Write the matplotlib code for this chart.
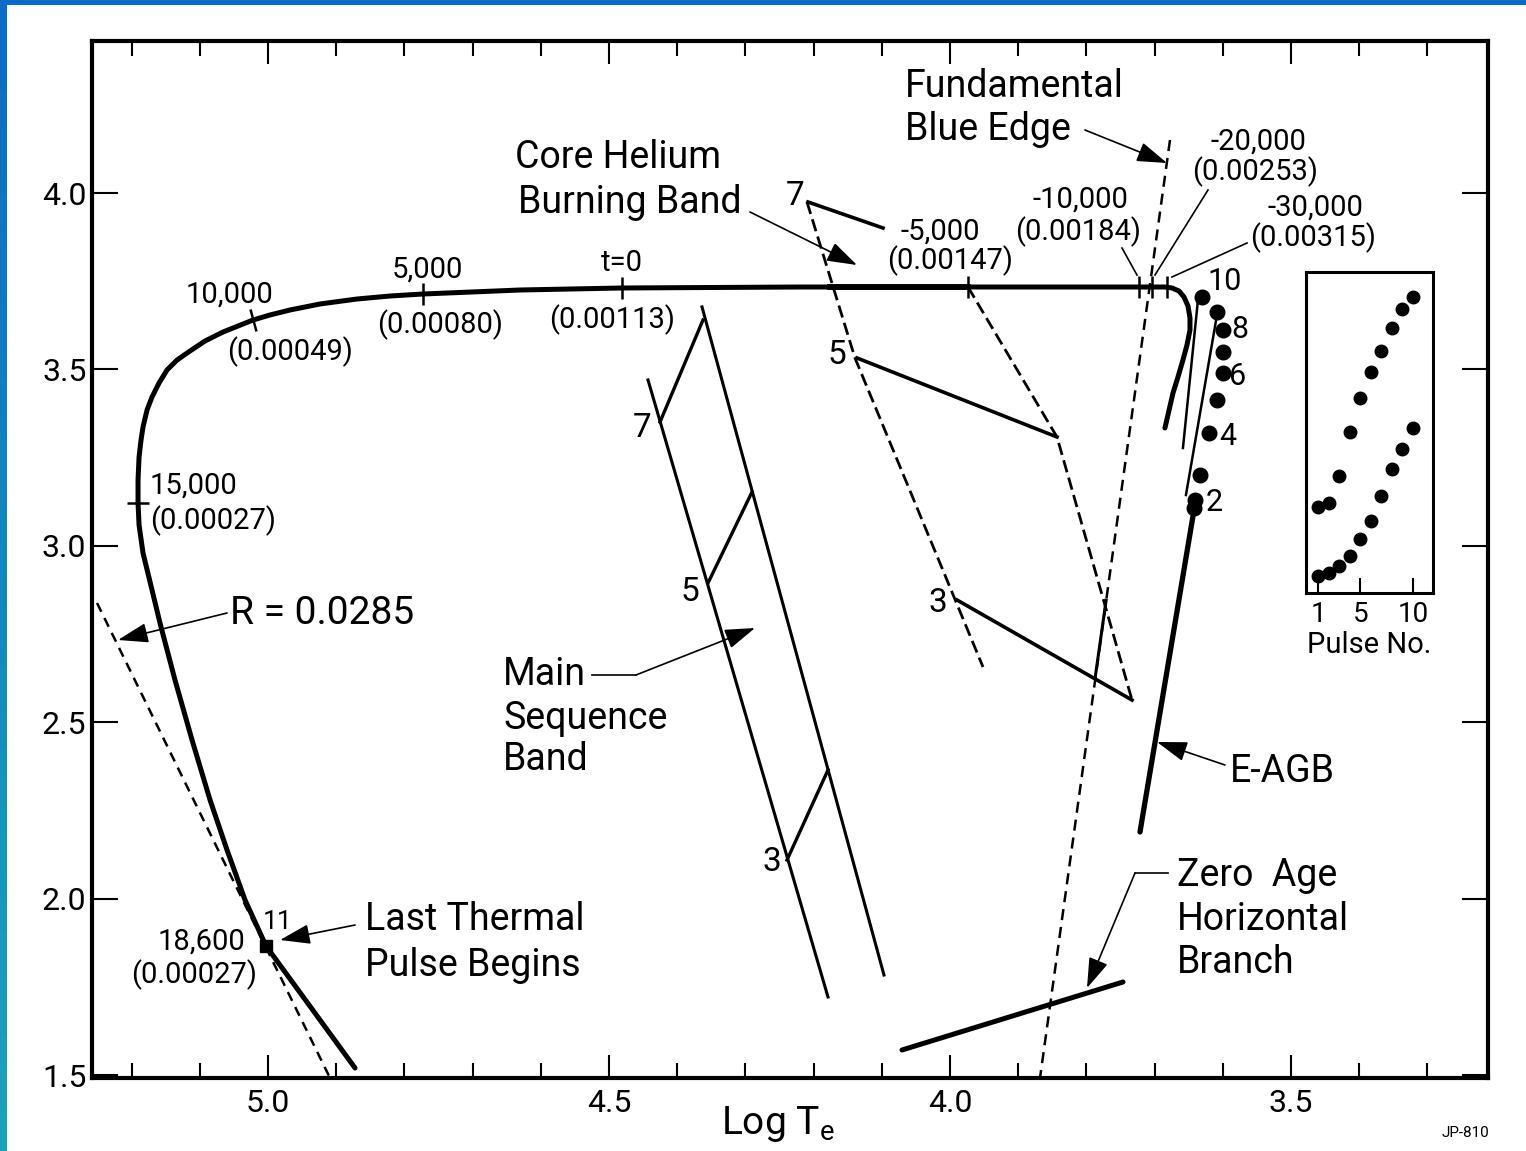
import numpy as np
import matplotlib
matplotlib.use("Agg")
import matplotlib.pyplot as plt
from matplotlib.markers import MarkerStyle
from matplotlib.transforms import Affine2D
from matplotlib.colors import LinearSegmentedColormap

plt.rcParams['font.family'] = ['Roboto', 'DejaVu Sans']
plt.rcParams['mathtext.fontset'] = 'custom'
plt.rcParams['mathtext.rm'] = 'Roboto'
plt.rcParams['mathtext.it'] = 'Roboto'
plt.rcParams['lines.scale_dashes'] = False

# ---------------- data (log Te, log L) ----------------
track_logT = [4.8724, 5.0029, 5.0337, 5.0601, 5.0850, 5.1114, 5.1364, 5.1584, 5.1701,
              5.1833, 5.1891, 5.1906, 5.1906, 5.1891, 5.1862, 5.1833, 5.1774, 5.1701,
              5.1598, 5.1481, 5.1334, 5.1144, 5.0924, 5.0660, 5.0440, 5.0220, 4.9971,
              4.9677, 4.9238, 4.8695, 4.8211, 4.7727, 4.6305, 4.4809, 4.2199, 3.9736,
              3.7214, 3.6848, 3.6745, 3.6642, 3.6569, 3.6510, 3.6481, 3.6481, 3.6525,
              3.6584, 3.6657, 3.6730, 3.6848]
track_logL = [1.5212, 1.8669, 1.9972, 2.1388, 2.2805, 2.4504, 2.6204, 2.7819, 2.8754,
              2.9802, 3.0595, 3.1218, 3.1870, 3.2521, 3.3003, 3.3371, 3.3853, 3.4221,
              3.4618, 3.4986, 3.5269, 3.5524, 3.5807, 3.6062, 3.6232, 3.6402, 3.6544,
              3.6686, 3.6856, 3.6997, 3.7082, 3.7139, 3.7252, 3.7309, 3.7337, 3.7337,
              3.7337, 3.7337, 3.7309, 3.7224, 3.7054, 3.6799, 3.6459, 3.6119, 3.5694,
              3.5269, 3.4788, 3.4334, 3.3343]

# time ticks along the track
tick_labels_top = ["10,000", "5,000", "t=0", "15,000", "-5,000", "-10,000", "-20,000", "-30,000"]
tick_logT = [5.0220, 4.7727, 4.4809, 5.1906, 3.9736, 3.7229, 3.7038, 3.6818]
tick_logL = [3.6402, 3.7139, 3.7309, 3.1218, 3.7337, 3.7337, 3.7337, 3.7337]

# constant radius line R = 0.0285
radius_logT = [5.2507, 4.9091]
radius_logL = [2.8385, 1.4929]

# fundamental blue edge
blue_edge_logT = [3.6774, 3.8680]
blue_edge_logL = [4.1501, 1.4929]
blue_edge_solid_logT = [3.771, 3.787]
blue_edge_solid_logL = [2.847, 2.629]

# main sequence band
ms_left_logT = [4.4428, 4.1789]
ms_left_logL = [3.4703, 1.7224]
ms_right_logT = [4.3636, 4.0968]
ms_right_logL = [3.6771, 1.7847]
ms_masses = ["7", "5", "3"]
ms_track_logT = [[4.3622, 4.4252], [4.2903, 4.3548], [4.1789, 4.2390]]
ms_track_logL = [[3.6402, 3.3513], [3.1530, 2.8952], [2.3654, 2.1105]]

# core helium burning band
cheb_left_logT = [4.2097, 4.1393, 3.9516]
cheb_left_logL = [3.9745, 3.5326, 2.6572]
cheb_right_logT = [3.9736, 3.8431, 3.7331]
cheb_right_logL = [3.7337, 3.3088, 2.5637]
cheb_track_logT = [[4.2082, 4.0982], [4.1364, 3.8431], [3.9897, 3.7331]]
cheb_track_logL = [[3.9745, 3.9008], [3.5326, 3.3088], [2.8470, 2.5637]]
cheb_hatch_logT = [4.1760, 3.9736]
cheb_hatch_logL = [3.7337, 3.7337]

# zero age horizontal branch
zahb_logT = [4.0704, 3.7463]
zahb_logL = [1.5722, 1.7649]

# early AGB
eagb_logT = [3.7214, 3.6422]
eagb_logL = [2.1898, 3.1020]

# thermal pulse loci
pulse_no = [1, 2, 3, 4, 5, 6, 7, 8, 9, 10]
pulse_logT = [3.6422, 3.6408, 3.6334, 3.6202, 3.6085, 3.5997, 3.5997, 3.5997, 3.6085, 3.6305]
pulse_logL = [3.1076, 3.1303, 3.2011, 3.3201, 3.4136, 3.4901, 3.5496, 3.6119, 3.6629, 3.7054]
pulse_line1_logT = [3.6364, 3.6584]
pulse_line1_logL = [3.6969, 3.2776]
pulse_line2_logT = [3.6085, 3.6540]
pulse_line2_logL = [3.6544, 3.1445]
last_pulse_logT = [5.0029]
last_pulse_logL = [1.8669]

# inset (relative units)
inset_upper = [0.268, 0.280, 0.364, 0.502, 0.607, 0.688, 0.754, 0.826, 0.885, 0.922]
inset_lower = [0.053, 0.062, 0.084, 0.115, 0.168, 0.224, 0.302, 0.386, 0.449, 0.514]

x_major = [5.0, 4.5, 4.0, 3.5]
y_major = [1.5, 2.0, 2.5, 3.0, 3.5, 4.0]

# ---------------- figure ----------------
fig = plt.figure(figsize=(15.26, 11.51), dpi=100)
ax = fig.add_axes([92/1526, 1-1078/1151, (1488-92)/1526, (1078-41)/1151])
ax.set_xlim(5.2581, 3.2111)
ax.set_ylim(1.4929, 4.4306)

for s in ax.spines.values():
    s.set_linewidth(3.0)

ax.set_xticks(x_major)
ax.set_xticklabels(["5.0", "4.5", "4.0", "3.5"])
ax.set_xticks(np.arange(3.3, 5.25, 0.1), minor=True)
ax.set_yticks(y_major)
ax.set_yticklabels(["1.5", "2.0", "2.5", "3.0", "3.5", "4.0"])
ax.tick_params(axis='x', which='major', direction='in', length=16.5, width=1.5,
               top=True, bottom=True, labelsize=23, pad=8)
ax.tick_params(axis='x', which='minor', direction='in', length=11, width=1.5,
               top=True, bottom=True)
ax.tick_params(axis='y', which='major', direction='in', length=19, width=1.5,
               left=True, right=True, labelsize=23, pad=4)
ax.tick_params(axis='y', which='minor', left=False, right=False)

k = 'black'
# dashed lines
ax.plot(radius_logT, radius_logL, color=k, lw=1.8, dashes=(7, 5))
ax.plot(blue_edge_logT, blue_edge_logL, color=k, lw=1.8, dashes=(8, 5))
ax.plot(blue_edge_solid_logT, blue_edge_solid_logL, color=k, lw=2.2)
ax.plot(cheb_left_logT, cheb_left_logL, color=k, lw=2.0, dashes=(9, 4))
ax.plot(cheb_right_logT, cheb_right_logL, color=k, lw=2.0, dashes=(9, 4))

# main sequence band
ax.plot(ms_left_logT, ms_left_logL, color=k, lw=2.2)
ax.plot(ms_right_logT, ms_right_logL, color=k, lw=2.2)
for tT, tL in zip(ms_track_logT, ms_track_logL):
    ax.plot(tT, tL, color=k, lw=2.4)

# core helium tracks
for tT, tL in zip(cheb_track_logT, cheb_track_logL):
    ax.plot(tT, tL, color=k, lw=2.6)
ax.plot(cheb_hatch_logT, cheb_hatch_logL, color=k, lw=4.2)

# main post-AGB track
ax.plot(track_logT, track_logL, color=k, lw=3.6, solid_capstyle='round', solid_joinstyle='round')

# time ticks
for i, (tT, tL) in enumerate(zip(tick_logT, tick_logL)):
    if tick_labels_top[i] == "15,000":
        m = '_'
    elif tick_labels_top[i] == "10,000":
        m = MarkerStyle('|', transform=Affine2D().rotate_deg(18))
    else:
        m = '|'
    ax.plot([tT], [tL], marker=m, ms=16, mew=1.8, color=k, ls='none')

# ZAHB, E-AGB
ax.plot(zahb_logT, zahb_logL, color=k, lw=3.6, solid_capstyle='round')
ax.plot(eagb_logT, eagb_logL, color=k, lw=3.8, solid_capstyle='round')

# thermal pulses
ax.plot(pulse_line1_logT, pulse_line1_logL, color=k, lw=1.8)
ax.plot(pulse_line2_logT, pulse_line2_logL, color=k, lw=1.8)
ax.plot(pulse_logT, pulse_logL, 'o', color=k, ms=10.5)
ax.plot(last_pulse_logT, last_pulse_logL, 's', color=k, ms=8.5)

# ---------------- annotations ----------------
def arrow(start, tip):
    ax.annotate('', xy=tip, xytext=start,
                arrowprops=dict(arrowstyle='-|>,head_length=0.85,head_width=0.28',
                                lw=1.2, color=k, shrinkA=0, shrinkB=0,
                                mutation_scale=22))

def leader(p1, p2):
    ax.plot([p1[0], p2[0]], [p1[1], p2[1]], color=k, lw=1.2)

num_fs = 21
big_fs = 27
time_labels = [
    ("10,000", 5.0572, 3.7110, 'center'),
    ("(0.00049)", 4.9677, 3.5496, 'center'),
    ("5,000", 4.7669, 3.7819, 'center'),
    ("(0.00080)", 4.7478, 3.6261, 'center'),
    ("t=0", 4.4809, 3.8017, 'center'),
    ("(0.00113)", 4.4956, 3.6402, 'center'),
    ("15,000", 5.1730, 3.1700, 'left'),
    ("(0.00027)", 5.1730, 3.0708, 'left'),
    ("-5,000", 4.0147, 3.8895, 'center'),
    ("(0.00147)", 4.0000, 3.8074, 'center'),
    ("-10,000", 3.8094, 3.9802, 'center'),
    ("(0.00184)", 3.8123, 3.8895, 'center'),
    ("-20,000", 3.5484, 4.1445, 'center'),
    ("(0.00253)", 3.5528, 4.0595, 'center'),
    ("-30,000", 3.4648, 3.9575, 'center'),
    ("(0.00315)", 3.4677, 3.8725, 'center'),
    ("18,600", 5.0337, 1.8782, 'right'),
    ("(0.00027)", 5.0161, 1.7847, 'right'),
]
for s, tT, tL, ha in time_labels:
    ax.text(tT, tL, s, fontsize=num_fs, ha=ha, va='center')
ax.text(4.9853, 1.9348, "11", fontsize=19, ha='center', va='center')

big_labels = [
    ("Core Helium", 4.6378, 4.0992),
    ("Burning Band", 4.6334, 3.9717),
    ("Fundamental", 4.0660, 4.3003),
    ("Blue Edge", 4.0660, 4.1785),
    ("Last Thermal", 4.8578, 1.9405),
    ("Pulse Begins", 4.8578, 1.8102),
    ("Main", 4.6554, 2.6346),
    ("Sequence", 4.6554, 2.5127),
    ("Band", 4.6554, 2.3938),
    ("E-AGB", 3.5894, 2.3598),
    ("Zero  Age", 3.6672, 2.0652),
    ("Horizontal", 3.6672, 1.9405),
    ("Branch", 3.6672, 1.8215),
]
for s, tT, tL in big_labels:
    ax.text(tT, tL, s, fontsize=big_fs, ha='left', va='center')
ax.text(5.0557, 2.8074, "R = 0.0285", fontsize=28, ha='left', va='center')

mass_labels = [("7", 4.4516, 3.3343), ("5", 4.3812, 2.8697), ("3", 4.2610, 2.1048),
               ("7", 4.2273, 3.9915), ("5", 4.1657, 3.5411), ("3", 4.0176, 2.8385)]
for s, tT, tL in mass_labels:
    ax.text(tT, tL, s, fontsize=24, ha='center', va='center')

pulse_labels = [("10", 3.5968, 3.7479), ("8", 3.5748, 3.6119), ("6", 3.5777, 3.4788),
                ("4", 3.5924, 3.3116), ("2", 3.6129, 3.1246)]
for s, tT, tL in pulse_labels:
    ax.text(tT, tL, s, fontsize=22, ha='center', va='center')

# arrows and leaders
arrow((4.8724, 1.9263), (4.9824, 1.8839))             # last thermal pulse
arrow((5.0601, 2.8102), (5.2199, 2.7337))             # R = 0.0285
leader((4.5249, 2.6346), (4.4604, 2.6346))            # main sequence
arrow((4.4604, 2.6346), (4.2859, 2.7677))
arrow((4.2933, 3.9462), (4.1364, 3.7960))             # core helium
arrow((3.8021, 4.1785), (3.6818, 4.0850))             # blue edge
leader((3.7478, 3.8442), (3.7258, 3.7677))            # -10,000
leader((3.6217, 4.0085), (3.6994, 3.7677))            # -20,000
leader((3.5645, 3.8584), (3.6745, 3.7620))            # -30,000
arrow((3.5968, 2.3796), (3.6965, 2.4448))             # E-AGB
leader((3.6804, 2.0737), (3.7287, 2.0737))            # ZAHB
arrow((3.7287, 2.0737), (3.7991, 1.7479))

# x label
fig.text(778/1526, 1-1124/1151, r"Log T$_{\mathrm{e}}$", fontsize=28, ha='center', va='center')
fig.text(1466/1526, 1-1133/1151, "JP-810", fontsize=11, ha='center', va='center')

# ---------------- inset ----------------
ins = fig.add_axes([1306/1526, 1-593/1151, 127/1526, 321/1151])
ins.set_xlim(-0.19, 11.905)
ins.set_ylim(0, 1)
for s in ins.spines.values():
    s.set_linewidth(2.2)
ins.plot(pulse_no, inset_upper, 'o', color=k, ms=9)
ins.plot(pulse_no, inset_lower, 'o', color=k, ms=9)
ins.set_xticks([1, 5, 10])
ins.set_xticklabels(["1", "5", "10"])
ins.set_yticks([])
ins.tick_params(axis='x', direction='in', length=11, width=1.5, labelsize=20, pad=6)
ins.set_xlabel("Pulse No.", fontsize=21, labelpad=2)

# ---------------- blue frame ----------------
top = fig.add_axes([0, 1-5/1151, 1, 5/1151])
top.set_axis_off()
top.imshow([[0, 0]], cmap=LinearSegmentedColormap.from_list('b', ['#0a6cc8', '#0a6cc8']),
           aspect='auto', extent=[0, 1, 0, 1])
left = fig.add_axes([0, 0, 7/1526, 1])
left.set_axis_off()
grad = np.linspace(0, 1, 100).reshape(-1, 1)
left.imshow(grad, cmap=LinearSegmentedColormap.from_list('g', ['#0a6cc8', '#1aa3b8']),
            aspect='auto', extent=[0, 1, 0, 1], origin='upper')

fig.savefig("out.png", dpi=100)
